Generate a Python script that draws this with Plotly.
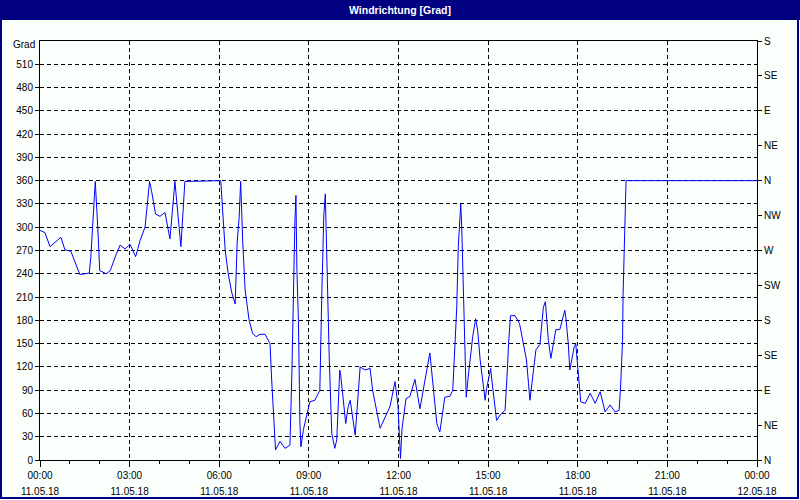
import plotly.graph_objects as go
import pandas as pd

# minutes after 11.05.18 00:00
minutes = [0,10,20,42,50,62,80,99,102,107,
           111,116,120,133,141,153,161,171,181,192,
           201,211,214,220,224,232,241,251,261,267,
           271,275,283,287,291,363,367,372,378,385,
           392,396,400,403,407,412,420,427,434,442,
           452,462,465,469,473,482,492,502,506,512,
           514,516,519,522,524,529,536,542,552,562,
           566,570,573,576,581,586,592,596,599,602,
           604,609,614,619,623,633,643,653,663,668,
           683,703,713,719,724,727,735,743,753,763,
           778,783,797,803,813,823,829,834,837,840,
           844,845,847,851,854,856,860,864,869,875,
           879,884,889,894,897,902,905,909,917,924,
           934,939,941,945,954,963,967,971,977,981,
           984,988,992,996,1004,1008,1011,1015,1018,1021,
           1026,1031,1036,1044,1050,1054,1056,1061,1064,1068,
           1073,1076,1079,1083,1086,1095,1105,1115,1125,1135,
           1145,1155,1163,1166,1170,1171,1173,1175,1177,1440]

wind_dir = [296,293,275,287,271,269,239,241,261,323,
            359,300,244,240,244,265,277,272,278,262,
            283,300,317,359,347,317,314,319,285,330,
            359,330,275,317,359,360,320,270,240,216,
            201,281,313,359,283,219,180,163,159,162,
            162,150,107,60,13,24,15,19,116,309,
            341,244,180,47,17,39,60,75,77,90,
            214,315,343,249,129,34,15,26,64,116,
            109,77,47,69,77,32,120,116,118,90,
            41,69,101,70,2,40,79,82,104,66,
            120,138,47,36,81,82,90,158,197,274,
            311,330,300,206,146,81,107,129,159,182,
            167,129,103,77,92,111,118,94,51,58,
            64,120,150,186,186,176,163,150,129,99,
            77,99,124,142,149,176,197,204,180,154,
            131,150,168,168,184,193,184,150,116,129,
            146,150,129,99,75,73,86,73,88,62,
            71,62,64,94,154,212,270,331,360,360]

x_tick_vals = ["2018-05-11 00:00", "2018-05-11 03:00", "2018-05-11 06:00",
               "2018-05-11 09:00", "2018-05-11 12:00", "2018-05-11 15:00",
               "2018-05-11 18:00", "2018-05-11 21:00", "2018-05-12 00:00"]
x_time_text = ["00:00", "03:00", "06:00", "09:00", "12:00", "15:00",
               "18:00", "21:00", "00:00"]
x_date_text = ["11.05.18", "11.05.18", "11.05.18", "11.05.18", "11.05.18",
               "11.05.18", "11.05.18", "11.05.18", "12.05.18"]
y_tick_vals = [0, 30, 60, 90, 120, 150, 180, 210, 240, 270, 300, 330, 360,
               390, 420, 450, 480, 510]
dir_tick_vals = [0, 45, 90, 135, 180, 225, 270, 315, 360, 405, 450, 495, 540]
dir_tick_text = ["N", "NE", "E", "SE", "S", "SW", "W", "NW", "N", "NE", "E", "SE", "S"]

times = pd.Timestamp("2018-05-11 00:00") + pd.to_timedelta(minutes, unit="m")

FONT = "Liberation Sans"
NAVY = "#000080"
BG = "#FBFFFB"
XRANGE = ["2018-05-11 00:00", "2018-05-12 00:00"]

fig = go.Figure()
fig.add_trace(go.Scatter(x=times, y=wind_dir, mode="lines",
                         line=dict(color="#0000FF", width=1),
                         showlegend=False, hoverinfo="skip"))
fig.add_trace(go.Scatter(x=times, y=wind_dir, mode="lines",
                         xaxis="x2", yaxis="y2",
                         line=dict(color="rgba(0,0,0,0)", width=0),
                         showlegend=False, hoverinfo="skip"))

L, R, T, B = 40, 757, 41, 460
W, H = R - L, B - T


def px(xp):
    return (xp - L) / W


def py(yp):
    return (B - yp) / H


tickfont = dict(family=FONT, size=10, color="black")

fig.update_layout(
    width=800, height=500, autosize=False,
    margin=dict(l=L, r=800 - R, t=T, b=500 - B, pad=0),
    paper_bgcolor=BG, plot_bgcolor=BG,
    font=dict(family=FONT, size=10, color="black"),
    xaxis=dict(
        type="date", range=XRANGE, automargin=False,
        tickmode="array", tickvals=x_tick_vals, ticktext=x_time_text,
        ticks="outside", ticklen=6, tickcolor="black", tickwidth=1,
        showgrid=True, gridcolor="black", gridwidth=1, griddash="4px,3px",
        showline=True, linecolor="black", linewidth=1, mirror=True,
        zeroline=False,
        minor=dict(dtick=3600000, tick0="2018-05-11 00:00", ticks="outside",
                   ticklen=3, tickcolor="black", showgrid=False),
        tickfont=tickfont, fixedrange=True,
    ),
    xaxis2=dict(
        type="date", range=XRANGE, automargin=False,
        overlaying="x", anchor="free", position=0, side="bottom",
        tickmode="array", tickvals=x_tick_vals, ticktext=x_date_text,
        ticks="outside", ticklen=22, tickcolor="rgba(0,0,0,0)",
        showgrid=False, zeroline=False, showline=False,
        tickfont=tickfont, fixedrange=True,
    ),
    yaxis=dict(
        range=[0, 540], automargin=False,
        tickmode="array", tickvals=y_tick_vals,
        ticks="outside", ticklen=4, tickcolor="black",
        showgrid=True, gridcolor="black", gridwidth=1, griddash="4px,3px",
        showline=True, linecolor="black", linewidth=1, mirror=True,
        zeroline=False,
        tickfont=tickfont, fixedrange=True,
    ),
    yaxis2=dict(
        range=[0, 540], automargin=False,
        overlaying="y", anchor="free", position=1, side="right",
        tickmode="array", tickvals=dir_tick_vals, ticktext=dir_tick_text,
        ticks="outside", ticklen=4, tickcolor="black",
        showgrid=False, zeroline=False, showline=True, linecolor="black",
        tickfont=tickfont, fixedrange=True,
    ),
    shapes=[
        dict(type="rect", xref="paper", yref="paper",
             x0=px(0), x1=px(800), y0=py(20), y1=py(0),
             fillcolor=NAVY, line=dict(width=0), layer="above"),
        dict(type="rect", xref="paper", yref="paper",
             x0=px(1), x1=px(798), y0=py(498), y1=py(1),
             fillcolor="rgba(0,0,0,0)", line=dict(color=NAVY, width=2),
             layer="above"),
    ],
    annotations=[
        dict(text="<b>Windrichtung [Grad]</b>", xref="paper", yref="paper",
             x=px(400), y=py(10), xanchor="center", yanchor="middle",
             showarrow=False, font=dict(family=FONT, size=10.5, color="white")),
        dict(text="Grad", xref="paper", yref="paper",
             x=px(37), y=py(44), xanchor="right", yanchor="middle",
             showarrow=False, font=dict(family=FONT, size=10, color="black")),
    ],
)

fig.write_html("out.html", config={"displayModeBar": False},
               post_script="document.body.style.margin='0';")
